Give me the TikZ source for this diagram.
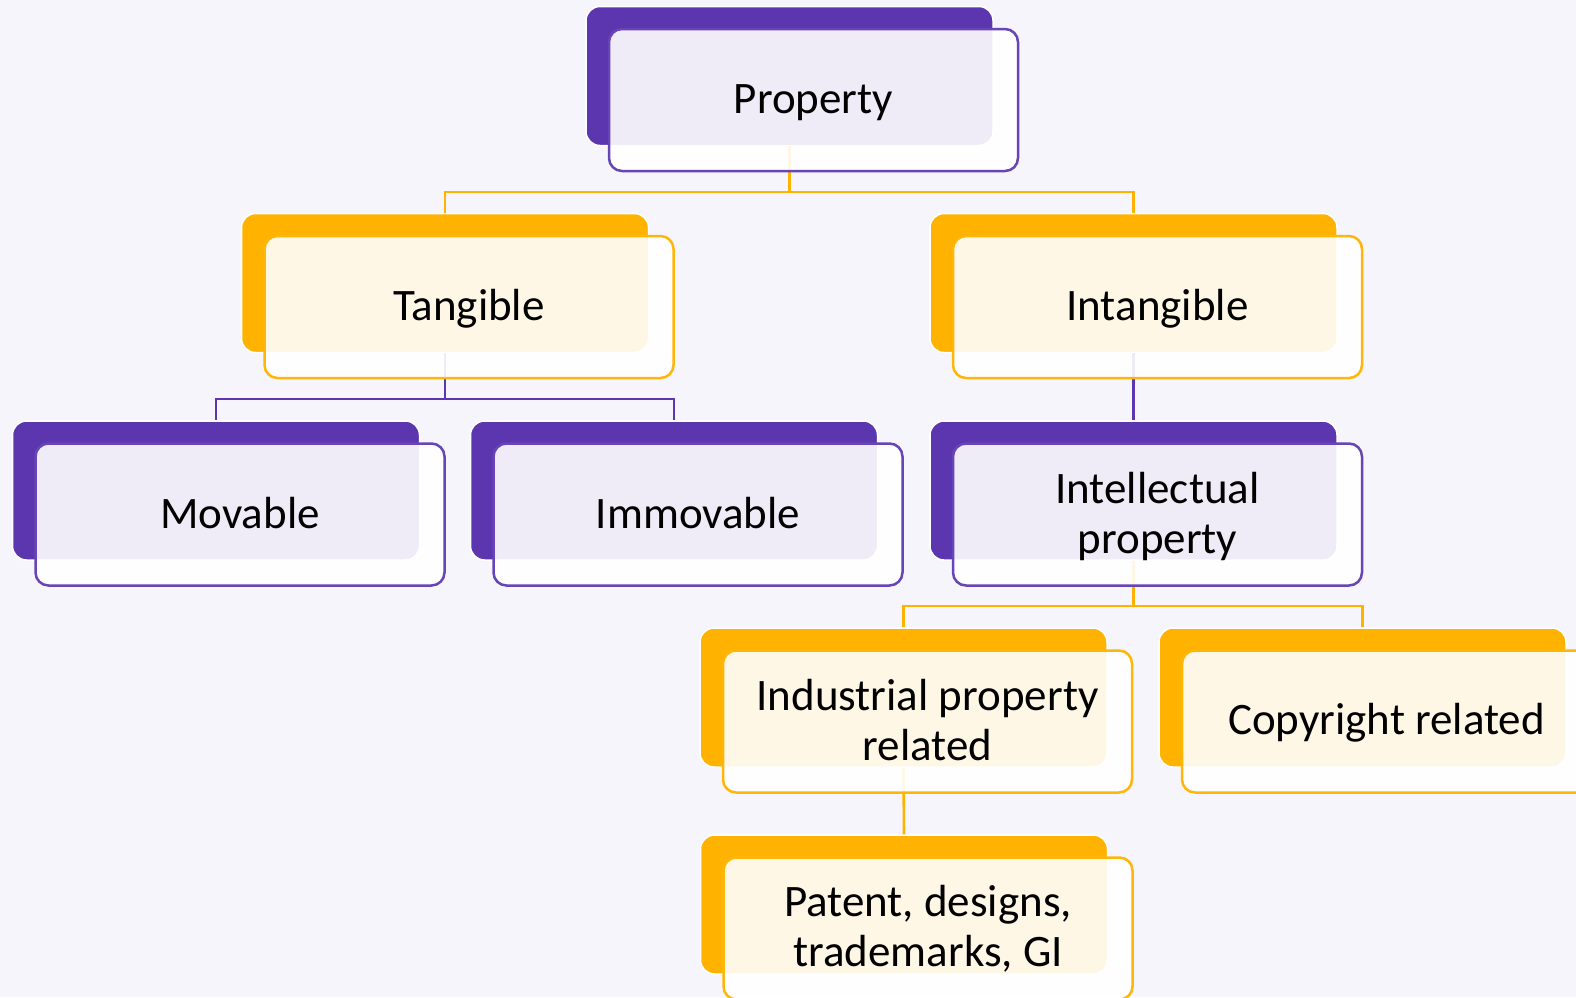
\documentclass[tikz,border=0pt]{standalone}
\usepackage{fontspec}
\setmainfont{Carlito}
\definecolor{bgc}{HTML}{F7F5FC}
\definecolor{pur}{HTML}{5C36AE}
\definecolor{purl}{HTML}{6745B7}
\definecolor{org}{HTML}{FFB300}
\definecolor{orgl}{HTML}{FFB60A}
\begin{document}
\begin{tikzpicture}[x=1pt,y=-1pt,
  backbox/.style={draw=white,line width=1.5pt,fill=#1,rounded corners=14pt,minimum width=407pt,minimum height=139pt,inner sep=0pt},
  frontbox/.style={draw=#1,line width=2.5pt,fill=white,fill opacity=0.9,rounded corners=13pt,minimum width=409pt,minimum height=142pt,inner sep=0pt},
  txt/.style={inner sep=0pt,align=center,font=\fontsize{45}{50}\selectfont},
  conn/.style={draw=#1,line width=2.6pt}]
\useasboundingbox (0,0) rectangle (1576,997);
\clip (0,0) rectangle (1576,997);
\fill[bgc] (0,0) rectangle (1576,997);
% back boxes
\node[backbox=pur] (prop) at (789.5,76) {};
\node[backbox=org] (tang) at (445,283) {};
\node[backbox=org] (intang) at (1133.5,283) {};
\node[backbox=pur] (mov) at (216,490.5) {};
\node[backbox=pur] (immov) at (674,490.5) {};
\node[backbox=pur] (intel) at (1133.5,490.5) {};
\node[backbox=org] (indus) at (903.5,697.5) {};
\node[backbox=org] (copy) at (1362.5,697.5) {};
\node[backbox=org] (pat) at (904,904.5) {};
% junctions
\coordinate (j1) at (789.5,192);
\coordinate (j2) at (445,399);
\coordinate (j3) at (1133.5,606);
% connectors
\draw[conn=org] (prop.south) -- (prop.south |- j1) -| (tang.north);
\draw[conn=org] (prop.south |- j1) -| (intang.north);
\draw[conn=pur] (tang.south) -- (tang.south |- j2) -| (mov.north);
\draw[conn=pur] (tang.south |- j2) -| (immov.north);
\draw[conn=pur] (intang.south) -- (intel.north);
\draw[conn=org] (intel.south) -- (intel.south |- j3) -| (indus.north);
\draw[conn=org] (intel.south |- j3) -| (copy.north);
\draw[conn=org] (indus.south) -- (pat.north);
% front boxes
\node[frontbox=purl] (propf) at (813.5,100) {};
\node[frontbox=orgl] (tangf) at (469,307) {};
\node[frontbox=orgl] (intangf) at (1157.5,307) {};
\node[frontbox=purl] (movf) at (240,514.5) {};
\node[frontbox=purl] (immovf) at (698,514.5) {};
\node[frontbox=purl] (intelf) at (1157.5,514.5) {};
\node[frontbox=orgl] (indusf) at (927.5,721.5) {};
\node[frontbox=orgl] (copyf) at (1386.5,721.5) {};
\node[frontbox=orgl] (patf) at (928,928.5) {};
% texts
\node[txt] (propt) at ([yshift=-2.5pt]propf.center) {Property};
\node[txt] (tangt) at ([yshift=-1.5pt]tangf.center) {Tangible};
\node[txt] (intangt) at ([yshift=-1.5pt]intangf.center) {Intangible};
\node[txt] (movt) at ([yshift=1.5pt]movf.center) {Movable};
\node[txt] (immovt) at ([yshift=1.5pt]immovf.center) {Immovable};
\node[txt] (intelt) at ([yshift=-1.5pt]intelf.center) {Intellectual\\property};
\node[txt] (indust) at ([yshift=1.5pt]indusf.center) {Industrial property\\related};
\node[txt] (copyt) at ([yshift=-1.5pt]copyf.center) {Copyright related};
\node[txt] (patt) at ([yshift=-0.5pt]patf.center) {Patent, designs,\\trademarks, GI};
\end{tikzpicture}
\end{document}
